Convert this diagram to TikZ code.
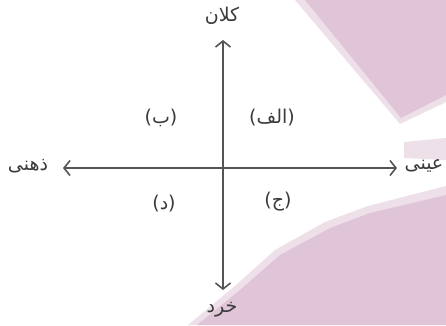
\documentclass[tikz,border=0pt]{standalone}
\usepackage{fontspec}
\usetikzlibrary{arrows.meta}
\newfontfamily\arabicfont[Script=Arabic]{DejaVu Sans}
\TeXXeTstate=1
\definecolor{bgpink}{HTML}{DFC5D7}
\definecolor{bgpinklight}{HTML}{EEE0E9}
\definecolor{axisgray}{HTML}{555555}
\definecolor{textgray}{HTML}{3A3A3A}
\tikzset{
  axis/.style={draw=axisgray, line width=1.1pt, -{Straight Barb[length=6pt,width=15pt,line width=1.6pt]}},
  lbl/.style={text=textgray, font=\arabicfont\fontsize{19}{22}\selectfont, inner sep=1pt}
}
\begin{document}
\begin{tikzpicture}[x=1pt,y=-1pt]
\useasboundingbox (0,0) rectangle (446,325);
\fill[white] (0,0) rectangle (446,325);
% background shapes
\fill[bgpinklight] (295,0) -- (446,0) -- (446,102) -- (400,124) -- cycle;
\fill[bgpink] (305,0) -- (446,0) -- (446,95) -- (401,118) -- cycle;
\fill[bgpinklight] (404,142) -- (446,138) -- (446,160) -- (404,158) -- cycle;
\fill[bgpinklight] (188,325) -- (235,286) -- (275,250) -- (325,222) -- (368,206) -- (446,186) -- (446,325) -- cycle;
\fill[bgpink] (197,325) -- (240,290) -- (280,255) -- (330,228) -- (370,213) -- (446,195) -- (446,325) -- cycle;
% centre and axis ends
\coordinate (o) at (223,168);
\node[lbl] (top) at (222,16) {\beginR کلان\endR};
\node[lbl] (bot) at (222,310) {\beginR خرد\endR};
\node[lbl] (left) at (28,166) {\beginR ذهنی\endR};
\node[lbl] (right) at (424,166) {\beginR عینی\endR};
\coordinate (ttip) at (223,40);
\coordinate (btip) at (223,290);
\coordinate (ltip) at (63,168);
\coordinate (rtip) at (397,168);
\draw[axis] (o) -- (ttip);
\draw[axis] (o) -- (btip);
\draw[axis] (o) -- (ltip);
\draw[axis] (o) -- (rtip);
% quadrant labels
\node[lbl] (qa) at (272,118) {\beginR(الف)\endR};
\node[lbl] (qb) at (161,118) {\beginR(ب)\endR};
\node[lbl] (qc) at (278,202) {\beginR(ج)\endR};
\node[lbl] (qd) at (164,204) {\beginR(د)\endR};
\end{tikzpicture}
\end{document}
